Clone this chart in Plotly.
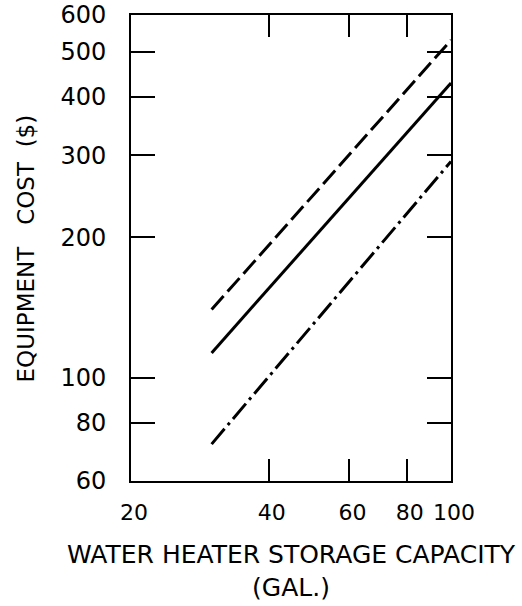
import plotly.graph_objects as go
import math

# Data (log-log, straight lines)
capacity = [30, 100]           # gallons
cost_high = [140, 530]         # dashed line ($)
cost_mid = [113, 429]          # solid line ($)
cost_low = [72, 291]           # dash-dot line ($)

x_ticks = [20, 40, 60, 80, 100]
y_ticks = [60, 80, 100, 200, 300, 400, 500, 600]

FONT = "DejaVu Sans"
NB = "\u00a0"

fig = go.Figure()
fig.add_trace(go.Scatter(x=capacity, y=cost_high, mode="lines",
                         line=dict(color="black", width=3, dash="18px,6px"),
                         showlegend=False))
fig.add_trace(go.Scatter(x=capacity, y=cost_mid, mode="lines",
                         line=dict(color="black", width=3),
                         showlegend=False))
fig.add_trace(go.Scatter(x=capacity, y=cost_low, mode="lines",
                         line=dict(color="black", width=3, dash="20px,5px,3px,5px"),
                         showlegend=False))

fig.update_layout(
    width=522, height=606,
    margin=dict(l=131, r=71, t=15, b=125, autoexpand=False),
    paper_bgcolor="white", plot_bgcolor="white",
    font=dict(family=FONT, color="black"),
    xaxis=dict(type="log", range=[math.log10(20), 2],
               tickvals=x_ticks, ticktext=[str(v) for v in x_ticks],
               ticks="inside", ticklen=22, tickwidth=2, tickcolor="black",
               showline=True, linecolor="black", linewidth=2, mirror="allticks",
               showgrid=False, zeroline=False, automargin=False,
               tickfont=dict(size=22, family=FONT),
               ticklabelstandoff=11, ticklabelshift=3),
    yaxis=dict(type="log", range=[math.log10(60), math.log10(600)],
               tickvals=y_ticks, ticktext=[str(v) for v in y_ticks],
               ticks="inside", ticklen=24, tickwidth=2, tickcolor="black",
               showline=True, linecolor="black", linewidth=2, mirror="allticks",
               showgrid=False, zeroline=False, automargin=False,
               tickfont=dict(size=24, family=FONT),
               ticklabelstandoff=18),
)

fig.add_annotation(text="WATER HEATER STORAGE CAPACITY<br>(GAL.)",
                   xref="paper", yref="paper", x=0.5, y=-0.194,
                   xanchor="center", yanchor="middle", showarrow=False,
                   font=dict(size=25, family=FONT, color="black"))
fig.add_annotation(text="EQUIPMENT" + NB * 3 + "COST" + NB * 2 + "($)",
                   xref="paper", yref="paper", x=-0.3266, y=0.5,
                   xanchor="center", yanchor="middle", showarrow=False,
                   textangle=-90,
                   font=dict(size=23, family=FONT, color="black"))

fig.write_html("out.html",
               config={"displayModeBar": False},
               post_script="document.body.style.margin='0';document.body.style.overflow='hidden';")
